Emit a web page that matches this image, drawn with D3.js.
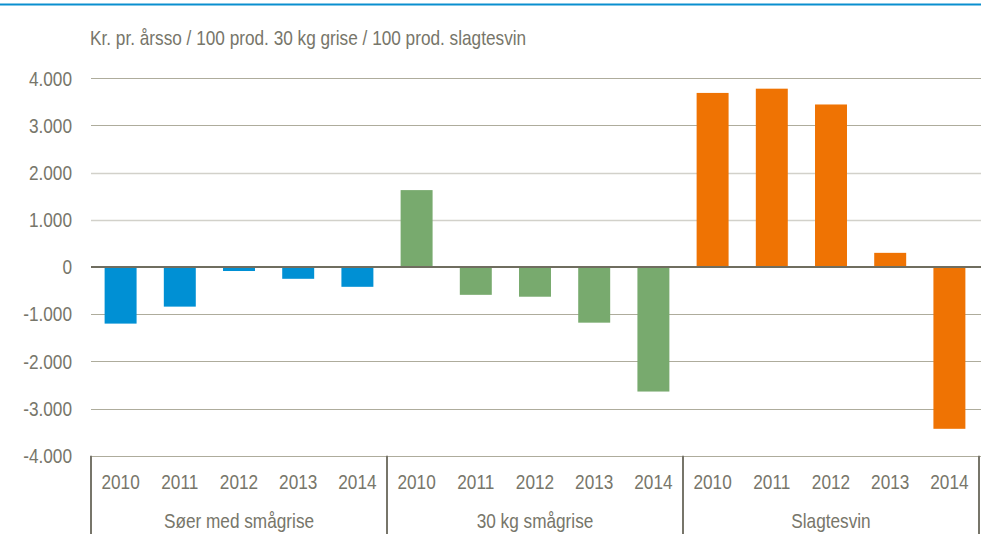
<!DOCTYPE html>
<html><head><meta charset="utf-8">
<script src="https://cdn.jsdelivr.net/npm/d3@7"></script>
<style>
html,body{margin:0;padding:0;background:#fff;}
svg{display:block;}
text{font-family:"Liberation Sans","Arial",sans-serif;fill:#77766a;}
</style></head>
<body>
<svg id="chart" width="981" height="534"></svg>
<script>
const groups = ["Søer med smågrise", "30 kg smågrise", "Slagtesvin"];
const years = ["2010", "2011", "2012", "2013", "2014"];
const soerValues = [-1200, -840, -85, -250, -420];
const grise30Values = [1630, -590, -630, -1180, -2640];
const slagtesvinValues = [3690, 3780, 3445, 300, -3430];
const groupColors = ["#0090d4", "#78aa6e", "#ef7303"];
const yTicks = [-4000, -3000, -2000, -1000, 0, 1000, 2000, 3000, 4000];
const yTitle = "Kr. pr. årsso / 100 prod. 30 kg grise / 100 prod. slagtesvin";

const seriesValues = [soerValues, grise30Values, slagtesvinValues];
const data = [];
groups.forEach((g, gi) => years.forEach((yr, yi) => data.push({group: g, year: yr, value: seriesValues[gi][yi], color: groupColors[gi]})));

const svg = d3.select("#chart");
const W = 981, H = 534;
const mLeft = 91, mRight = 979, mTop = 78.3, mBottom = 455.7;
const FS = 21, SX = 0.82; // condensed look (Arial Narrow style)

const y = d3.scaleLinear().domain([-4000, 4000]).range([mBottom, mTop]);
const xg = d3.scaleBand().domain(groups).range([mLeft, mRight]).padding(0);
const xi = d3.scaleBand().domain(years).range([0, xg.bandwidth()]).paddingInner(0.46).paddingOuter(0.23);

function narrowText(sel, x, yy, str, anchor) {
  return sel.append("text")
    .attr("transform", `translate(${x},${yy}) scale(${SX},1)`)
    .attr("text-anchor", anchor || "start")
    .attr("font-size", FS).text(str);
}

// top rule
svg.append("line").attr("x1", 0).attr("x2", W).attr("y1", 4.5).attr("y2", 4.5)
  .attr("stroke", "#0a8fcf").attr("stroke-width", 2);

// y title
narrowText(svg, 90, 45, yTitle, "start");

// gridlines
const fmt = v => d3.format(",")(v).replace(/,/g, ".").replace("−", "-");
svg.append("g").selectAll("line").data(yTicks.filter(t => t !== 0)).join("line")
  .attr("x1", mLeft).attr("x2", W)
  .attr("y1", d => Math.round(y(d)) + 0.5).attr("y2", d => Math.round(y(d)) + 0.5)
  .attr("stroke", d => (d === 1000 || d === 2000) ? "#d2d1ca" : "#aeac9c")
  .attr("stroke-width", d => (d === 1000 || d === 2000) ? 1.5 : 1);

// y labels
const yAxis = d3.axisLeft(y).tickValues(yTicks).tickSize(0).tickPadding(0).tickFormat(fmt);
const ga = svg.append("g").attr("transform", `translate(72,0)`).call(yAxis);
ga.select(".domain").remove();
ga.selectAll("text").attr("font-size", FS).attr("fill", "#77766a")
  .attr("font-family", '"Liberation Sans",Arial,sans-serif')
  .attr("x", 0).attr("transform", `scale(${SX},1)`);

// bars
svg.append("g").selectAll("rect").data(data).join("rect")
  .attr("x", d => xg(d.group) + xi(d.year))
  .attr("width", xi.bandwidth())
  .attr("y", d => y(Math.max(0, d.value)))
  .attr("height", d => Math.abs(y(d.value) - y(0)))
  .attr("fill", d => d.color);

// zero line
svg.append("line").attr("x1", mLeft).attr("x2", W).attr("y1", y(0)).attr("y2", y(0))
  .attr("stroke", "#6f6d5f").attr("stroke-width", 2);

// category axis
const cat = svg.append("g");
cat.selectAll("line.div").data(groups.concat(["end"])).join("line").attr("class", "div")
  .attr("x1", (d, i) => i < groups.length ? xg(d) : mRight)
  .attr("x2", (d, i) => i < groups.length ? xg(d) : mRight)
  .attr("y1", mBottom).attr("y2", H)
  .attr("stroke", "#77756a").attr("stroke-width", 2);
data.forEach(d => narrowText(cat, xg(d.group) + xi(d.year) + xi.bandwidth() / 2, 488.5, d.year, "middle"));
groups.forEach(g => narrowText(cat, xg(g) + xg.bandwidth() / 2, 527.5, g, "middle"));
</script>
</body></html>
